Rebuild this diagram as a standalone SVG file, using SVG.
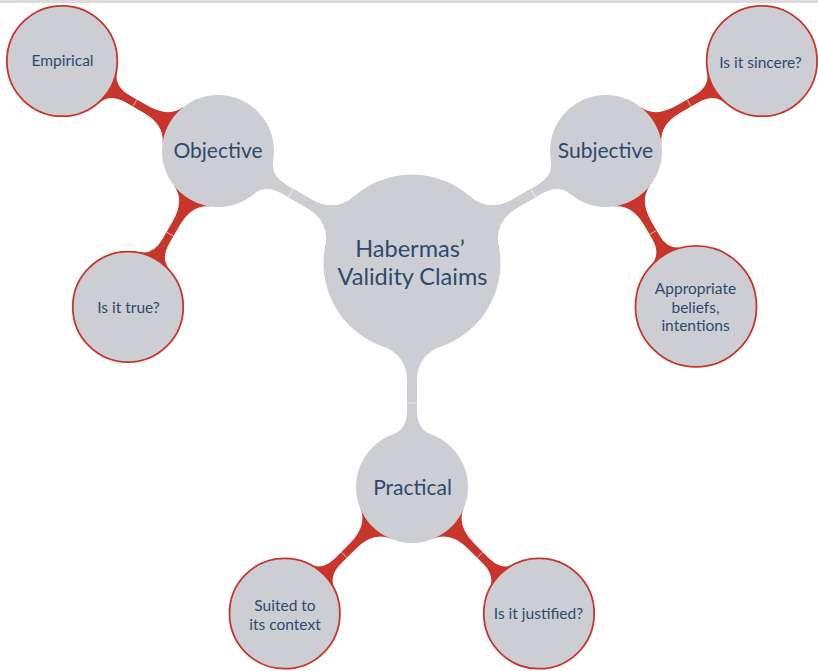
<svg xmlns="http://www.w3.org/2000/svg" width="818" height="671" viewBox="0 0 818 671">
<defs>
<style>
.bg{fill:#ffffff}
.band{fill:#dcdcdc}
.gray{fill:#cdced4}
.red{fill:#c8352b}
.leaf{fill:#cdced4;stroke:#c8352b;stroke-width:1.8}
.seam{stroke:#ffffff;stroke-width:0.7;opacity:0.85}
text{font-family:Lato,"Open Sans","DejaVu Sans",sans-serif;fill:#2d4a6e;text-anchor:middle}
.t0{font-size:23.5px}
.t1{font-size:21px}
.t2{font-size:15.5px}
</style>
<path id="bar1" d="M82.7,-30.1 Q91.8,-5 118,-5 L148,-5 Q166.2,-5 171.4,-19.2 L171.4,19.2 Q166.2,5 148,5 L118,5 Q91.8,5 82.7,30.1 Z"/>
<path id="bar2" d="M51.9,-21 Q59,-4 84,-4 L104,-4 Q122.2,-4 126.7,-17.3 L126.7,17.3 Q122.2,4 104,4 L84,4 Q59,4 51.9,21 Z"/>
<path id="bar2b" d="M51.9,-21 Q59,-4 84,-4 L100,-4 Q117,-4 122,-18.9 L122,18.9 Q117,4 100,4 L84,4 Q59,4 51.9,21 Z"/>
</defs>
<rect class="bg" x="0" y="0" width="818" height="671"/>
<rect class="band" x="0" y="0" width="818" height="3"/>
<g id="connectors">
<g transform="translate(412,263) rotate(-150)"><use href="#bar1" class="gray"/><line class="seam" x1="140" y1="-5" x2="140" y2="5"/></g>
<g transform="translate(412,263) rotate(-30)"><use href="#bar1" class="gray"/><line class="seam" x1="140" y1="-5" x2="140" y2="5"/></g>
<g transform="translate(412,263) rotate(90)"><use href="#bar1" class="gray"/><line class="seam" x1="140" y1="-5" x2="140" y2="5"/></g>
<g transform="translate(218,151) rotate(-150)"><use href="#bar2" class="red"/><line class="seam" x1="96" y1="-4" x2="96" y2="4"/></g>
<g transform="translate(218,151) rotate(120)"><use href="#bar2" class="red"/><line class="seam" x1="96" y1="-4" x2="96" y2="4"/></g>
<g transform="translate(606,151) rotate(-30)"><use href="#bar2" class="red"/><line class="seam" x1="96" y1="-4" x2="96" y2="4"/></g>
<g transform="translate(606,151) rotate(60)"><use href="#bar2b" class="red"/><line class="seam" x1="94" y1="-4" x2="94" y2="4"/></g>
<g transform="translate(412,487) rotate(135)"><use href="#bar2" class="red"/><line class="seam" x1="96" y1="-4" x2="96" y2="4"/></g>
<g transform="translate(412,487) rotate(45)"><use href="#bar2" class="red"/><line class="seam" x1="96" y1="-4" x2="96" y2="4"/></g>
</g>
<g id="center">
<circle class="gray" cx="412" cy="263" r="88.5"/>
<text class="t0" x="410" y="256.5">Habermas’</text>
<text class="t0" x="412.5" y="284.5">Validity Claims</text>
</g>
<g id="objective">
<circle class="gray" cx="218" cy="151" r="56"/>
<text class="t1" x="218" y="157.5">Objective</text>
</g>
<g id="subjective">
<circle class="gray" cx="606" cy="151" r="56"/>
<text class="t1" x="605.5" y="157.5">Subjective</text>
</g>
<g id="practical">
<circle class="gray" cx="412" cy="487" r="56"/>
<text class="t1" x="412.5" y="494.5">Practical</text>
</g>
<g id="empirical">
<circle class="leaf" cx="62.1" cy="61" r="55.2"/>
<text class="t2" x="62.5" y="65.5">Empirical</text>
</g>
<g id="true">
<circle class="leaf" cx="128" cy="306.9" r="55.2"/>
<text class="t2" x="128.5" y="312.5">Is it true?</text>
</g>
<g id="sincere">
<circle class="leaf" cx="761.9" cy="61" r="55.2"/>
<text class="t2" x="760.5" y="67.5">Is it sincere?</text>
</g>
<g id="appropriate">
<circle class="leaf" cx="696" cy="306.4" r="60.5"/>
<text class="t2" x="695.5" y="294">Appropriate</text>
<text class="t2" x="695.5" y="312.5">beliefs,</text>
<text class="t2" x="695.5" y="331">intentions</text>
</g>
<g id="suited">
<circle class="leaf" cx="284.7" cy="613.5" r="55.2"/>
<text class="t2" x="285" y="610.5">Suited to</text>
<text class="t2" x="285" y="629.5">its context</text>
</g>
<g id="justified">
<circle class="leaf" cx="539" cy="613.5" r="55.2"/>
<text class="t2" x="538.5" y="618.5">Is it justified?</text>
</g>
</svg>
